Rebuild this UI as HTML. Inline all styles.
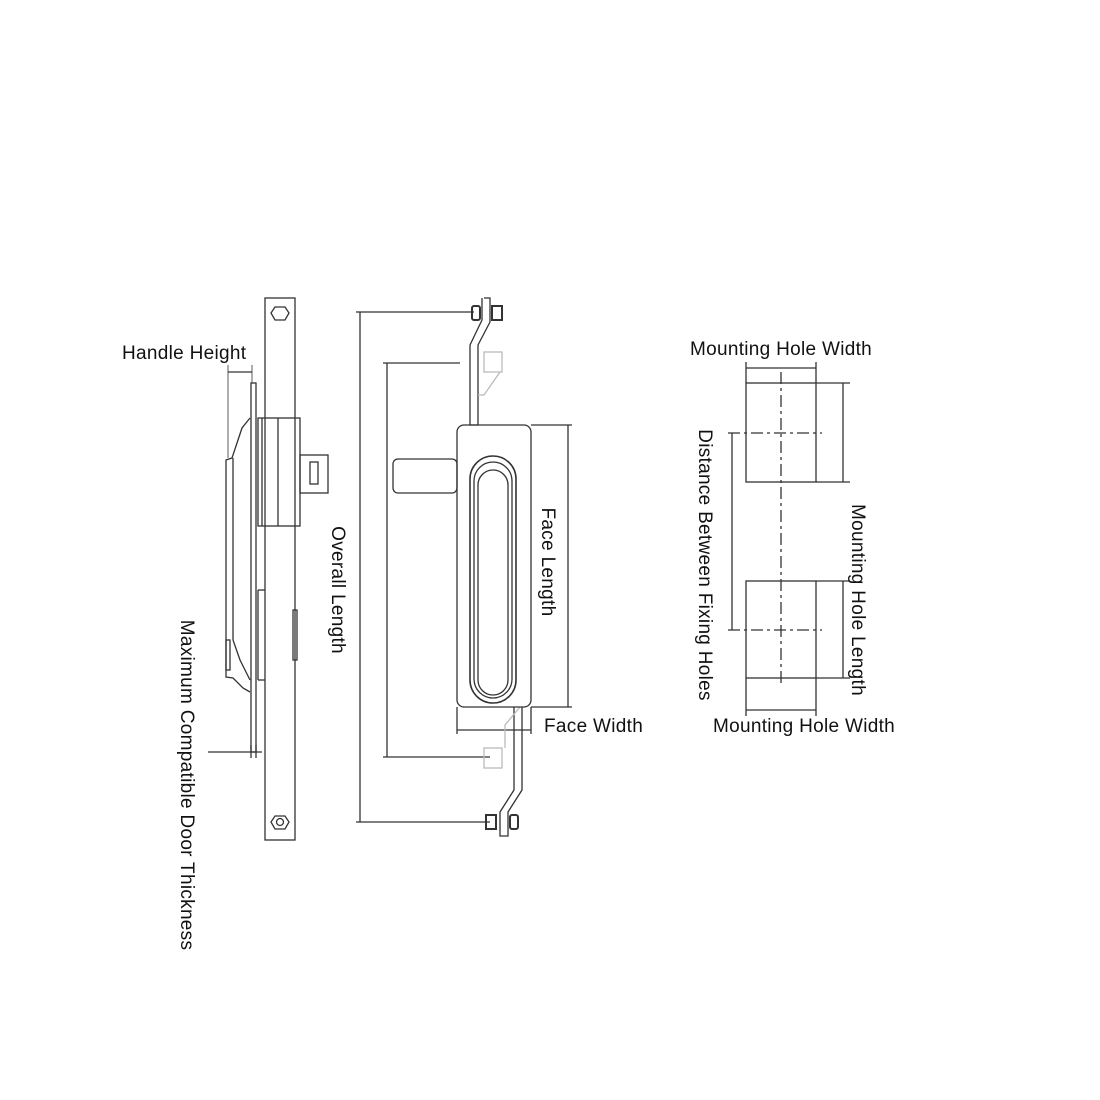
<!DOCTYPE html>
<html><head><meta charset="utf-8"><style>
body{margin:0;background:#fff}
svg{display:block}
text{font-family:"Liberation Sans","DejaVu Sans",sans-serif;font-size:19px;letter-spacing:0.3px;fill:#111}
</style></head><body>
<svg width="1100" height="1100" viewBox="0 0 1100 1100" xmlns="http://www.w3.org/2000/svg">
<g fill="none" stroke="#333" stroke-width="1.3">
<!-- side view -->
<rect x="265" y="298" width="30" height="542"/>
<polygon points="275,307 285,307 289,313 285,320 275,320 271,313"/>
<polygon points="275,816 285,816 289,822 285,829 275,829 271,822"/>
<circle cx="280" cy="822" r="3.5"/>
<rect x="251" y="383" width="5" height="369"/>
<rect x="258" y="418" width="42" height="108"/>
<line x1="262" y1="418" x2="262" y2="526"/><line x1="278" y1="418" x2="278" y2="526"/>
<rect x="300" y="455" width="28" height="38"/>
<rect x="310" y="462" width="8" height="22"/>
<polyline points="250,418 242,428 232,458 226,460 226,677 233,678 243,688 250,692"/>
<line x1="233" y1="458" x2="233" y2="640"/>
<polyline points="233,640 240,660 250,680"/>
<line x1="258" y1="590" x2="265" y2="590"/><line x1="258" y1="680" x2="265" y2="680"/>
<line x1="258" y1="590" x2="258" y2="680"/>
<rect x="226" y="640" width="4" height="30"/>
<rect x="293" y="610" width="4" height="50"/>
<line x1="228" y1="372" x2="252" y2="372"/>
<line x1="228" y1="365" x2="228" y2="458" stroke-width="0.8"/>
<line x1="252" y1="365" x2="252" y2="383" stroke-width="0.8"/>
<line x1="208" y1="752" x2="262" y2="752"/>
<line x1="251" y1="745" x2="251" y2="758"/><line x1="256" y1="745" x2="256" y2="758"/>
<!-- front view dims -->
<line x1="360" y1="312" x2="360" y2="822"/>
<line x1="356" y1="312" x2="474" y2="312"/><line x1="356" y1="822" x2="490" y2="822"/>
<line x1="387" y1="363" x2="387" y2="757"/>
<line x1="383" y1="363" x2="460" y2="363"/><line x1="383" y1="757" x2="490" y2="757"/>
<line x1="568" y1="425" x2="568" y2="707"/>
<line x1="531" y1="425" x2="572" y2="425"/><line x1="531" y1="707" x2="572" y2="707"/>
<line x1="457" y1="730" x2="531" y2="730"/>
<line x1="457" y1="707" x2="457" y2="734"/><line x1="531" y1="707" x2="531" y2="734"/>
<!-- rods -->
<polyline points="484,298 490,298 490,322 478,345 478,425 470,425 470,345 482,320 482,298"/>
<rect x="472" y="306" width="8" height="14" rx="2" stroke-width="2"/>
<rect x="492" y="306" width="10" height="14" stroke-width="2"/>
<polyline points="522,707 522,790 508,812 508,836 500,836 500,812 514,790 514,707" />
<rect x="486" y="815" width="10" height="14" stroke-width="2"/>
<rect x="510" y="815" width="8" height="14" rx="2" stroke-width="2"/>
<g stroke="#bbb"><rect x="484" y="352" width="18" height="20"/><rect x="484" y="748" width="18" height="20"/><polyline points="500,372 484,395 478,395"/><polyline points="520,707 505,725 505,748"/></g>
<!-- face -->
<rect x="457" y="425" width="74" height="282" rx="7"/>
<rect x="393" y="459" width="64" height="34" rx="5"/>
<rect x="470" y="456" width="46" height="247" rx="23" stroke-width="1.6"/>
<rect x="474" y="462" width="38" height="236" rx="19"/>
<rect x="478" y="470" width="30" height="225" rx="15"/>
<!-- mounting holes -->
<rect x="746" y="383" width="70" height="99"/>
<rect x="746" y="581" width="70" height="97"/>
<g stroke-dasharray="12,4,3,4">
<line x1="781" y1="372" x2="781" y2="685"/>
<line x1="728" y1="433" x2="822" y2="433"/>
<line x1="728" y1="630" x2="822" y2="630"/>
</g>
<line x1="732" y1="433" x2="732" y2="630"/>
<line x1="746" y1="368" x2="816" y2="368"/>
<line x1="746" y1="362" x2="746" y2="383"/><line x1="816" y1="362" x2="816" y2="383"/>
<line x1="746" y1="710" x2="816" y2="710"/>
<line x1="746" y1="678" x2="746" y2="716"/><line x1="816" y1="678" x2="816" y2="716"/>
<line x1="843" y1="383" x2="843" y2="482"/><line x1="843" y1="581" x2="843" y2="678"/>
<line x1="816" y1="383" x2="850" y2="383"/><line x1="816" y1="482" x2="850" y2="482"/>
<line x1="816" y1="581" x2="850" y2="581"/><line x1="816" y1="678" x2="850" y2="678"/>
</g>
<text x="122" y="359">Handle Height</text>
<text x="544" y="732">Face Width</text>
<text x="781" y="355" text-anchor="middle">Mounting Hole Width</text>
<text x="804" y="732" text-anchor="middle">Mounting Hole Width</text>
<text transform="translate(332,590) rotate(90)" text-anchor="middle">Overall Length</text>
<text transform="translate(542,562) rotate(90)" text-anchor="middle">Face Length</text>
<text transform="translate(181,785) rotate(90)" text-anchor="middle">Maximum Compatible Door Thickness</text>
<text transform="translate(699,565) rotate(90)" text-anchor="middle">Distance Between Fixing Holes</text>
<text transform="translate(852,600) rotate(90)" text-anchor="middle">Mounting Hole Length</text>
</svg>
</body></html>
